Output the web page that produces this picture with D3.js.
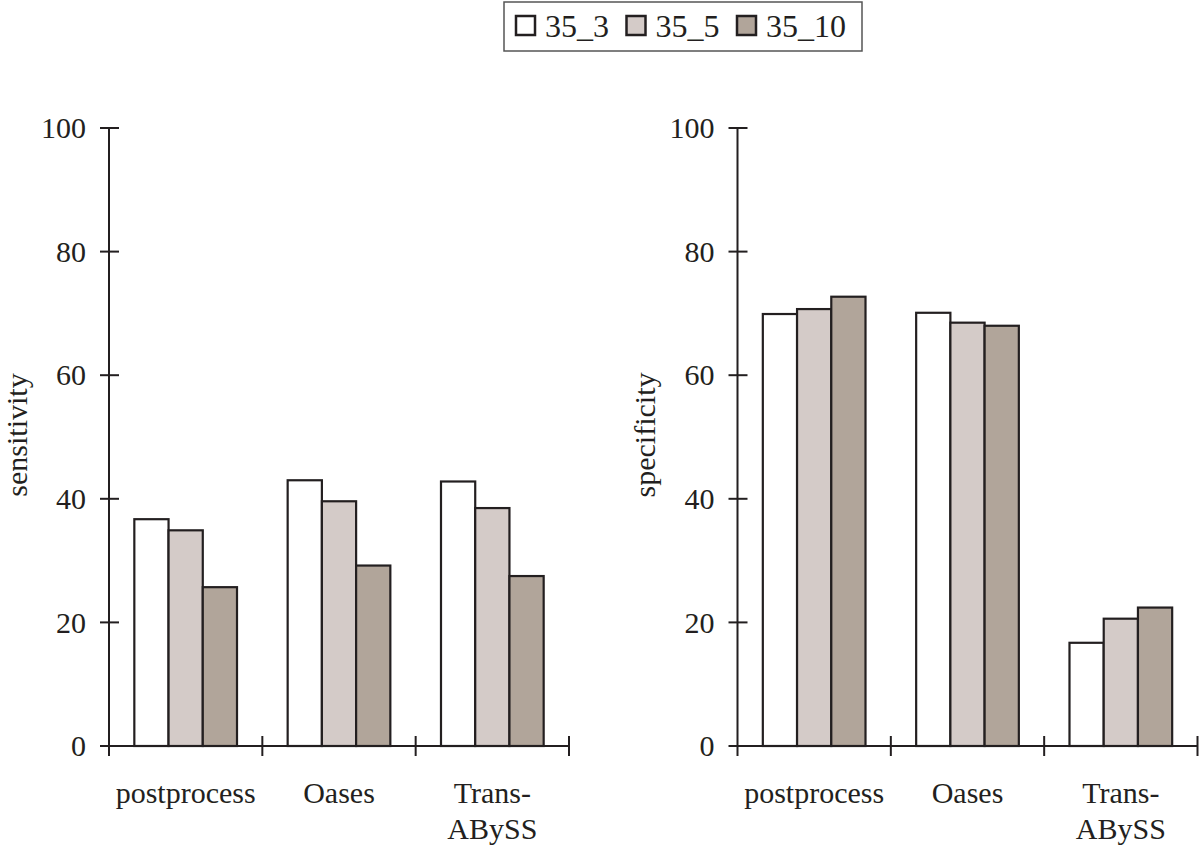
<!DOCTYPE html>
<html>
<head>
<meta charset="utf-8">
<script src="https://cdn.jsdelivr.net/npm/d3@7/dist/d3.min.js"></script>
<style>
  html, body { margin: 0; padding: 0; background: #fff; }
  svg { display: block; }
  text { font-family: "Liberation Serif", "Times New Roman", serif; fill: #231f20; }
</style>
</head>
<body>
<div id="chart"></div>
<script>
const categories = ["postprocess", "Oases", "Trans-ABySS"];
const categoryLines = [["postprocess"], ["Oases"], ["Trans-", "ABySS"]];
const seriesNames = ["35_3", "35_5", "35_10"];
const seriesColors = ["#ffffff", "#d4cbc8", "#b1a59a"];
const sensitivity = [
  [36.7, 34.9, 25.7],
  [43.0, 39.6, 29.2],
  [42.8, 38.5, 27.5]
];
const specificity = [
  [69.9, 70.7, 72.7],
  [70.1, 68.5, 68.0],
  [16.7, 20.6, 22.4]
];
const yTicks = [0, 20, 40, 60, 80, 100];

const W = 1200, H = 847;
const svg = d3.select("#chart").append("svg").attr("width", W).attr("height", H);
const ink = "#231f20";
const serif = '"Liberation Serif", "Times New Roman", serif';

function panel(x0, x1, data, title, titleX) {
  const yTop = 128, yBot = 746;
  const y = d3.scaleLinear().domain([0, 100]).range([yBot, yTop]);
  const x = d3.scaleBand().domain(categories).range([x0, x1]).paddingInner(0).paddingOuter(0);
  const xs = d3.scaleBand().domain(seriesNames).range([0, x.bandwidth()]).paddingOuter(0.74).paddingInner(0);
  const g = svg.append("g");

  // bars
  categories.forEach((c, ci) => {
    g.selectAll(null).data(data[ci]).enter().append("rect")
      .attr("x", (d, si) => x(c) + xs(seriesNames[si]))
      .attr("y", d => y(d))
      .attr("width", xs.bandwidth())
      .attr("height", d => y(0) - y(d))
      .attr("fill", (d, si) => seriesColors[si])
      .attr("stroke", ink)
      .attr("stroke-width", 2.2);
  });

  // y axis
  const ya = g.append("g").attr("transform", `translate(${x0},0)`)
    .call(d3.axisLeft(y).tickValues(yTicks).tickSize(0).tickPadding(23));
  ya.select(".domain").remove();
  ya.attr("font-family", serif);
  ya.selectAll("text").attr("font-size", 30).attr("font-family", serif).attr("fill", ink);
  g.append("line").attr("x1", x0).attr("x2", x0).attr("y1", yTop).attr("y2", yBot + 10)
    .attr("stroke", ink).attr("stroke-width", 2);
  g.selectAll(null).data(yTicks).enter().append("line")
    .attr("x1", x0 - 9).attr("x2", x0 + 10)
    .attr("y1", d => y(d)).attr("y2", d => y(d))
    .attr("stroke", ink).attr("stroke-width", 2);

  // x axis
  g.append("line").attr("x1", x0).attr("x2", x1).attr("y1", yBot).attr("y2", yBot)
    .attr("stroke", ink).attr("stroke-width", 2);
  const bounds = categories.map(c => x(c) + x.bandwidth());
  g.selectAll(null).data(bounds).enter().append("line")
    .attr("x1", d => d).attr("x2", d => d)
    .attr("y1", yBot - 10).attr("y2", yBot + 10)
    .attr("stroke", ink).attr("stroke-width", 2);

  // x labels
  categories.forEach((c, ci) => {
    const t = g.append("text").attr("text-anchor", "middle").attr("font-size", 30)
      .attr("font-family", serif)
      .attr("x", x(c) + x.bandwidth() / 2).attr("y", 803);
    categoryLines[ci].forEach((ln, li) => {
      t.append("tspan").attr("x", x(c) + x.bandwidth() / 2).attr("dy", li === 0 ? 0 : 36).text(ln);
    });
  });

  // y title
  g.append("text").attr("font-size", 30).attr("text-anchor", "middle")
    .attr("font-family", serif)
    .attr("transform", `translate(${titleX},435) rotate(-90)`)
    .attr("dy", "0.35em")
    .text(title);
}

panel(109, 569, sensitivity, "sensitivity", 16);
panel(737.5, 1197.5, specificity, "specificity", 644);

// legend
const lg = svg.append("g");
lg.append("rect").attr("x", 504).attr("y", 2).attr("width", 358).attr("height", 49)
  .attr("fill", "#fff").attr("stroke", "#555").attr("stroke-width", 1.5);
const lx = d3.scalePoint().domain(seriesNames).range([515, 736]);
seriesNames.forEach((s, i) => {
  lg.append("rect").attr("x", lx(s) + 1).attr("y", 16).attr("width", 19).attr("height", 19)
    .attr("fill", seriesColors[i]).attr("stroke", ink).attr("stroke-width", 2.5);
  lg.append("text").attr("x", lx(s) + 30).attr("y", 37).attr("font-size", 32)
    .attr("font-family", serif).text(s);
});
</script>
</body>
</html>
